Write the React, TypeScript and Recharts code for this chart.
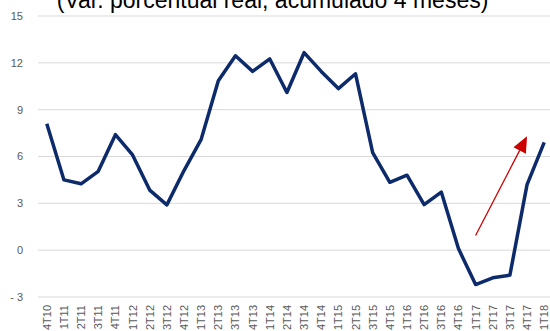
import { LineChart, Line, XAxis, YAxis, CartesianGrid, ReferenceLine } from 'recharts'

const quarters = [
  '4T10',
  '1T11', '2T11', '3T11', '4T11',
  '1T12', '2T12', '3T12', '4T12',
  '1T13', '2T13', '3T13', '4T13',
  '1T14', '2T14', '3T14', '4T14',
  '1T15', '2T15', '3T15', '4T15',
  '1T16', '2T16', '3T16', '4T16',
  '1T17', '2T17', '3T17', '4T17',
  '1T18',
]

const values = [
  8.1,
  4.5, 4.25, 5.05, 7.4,
  6.1, 3.85, 2.9, 5.1,
  7.1, 10.85, 12.45, 11.45,
  12.25, 10.1, 12.65, 11.45,
  10.35, 11.3, 6.25, 4.35,
  4.8, 2.92, 3.72, 0.1,
  -2.2, -1.77, -1.6, 4.2,
  6.9,
]

const yTicks = [-3, 0, 3, 6, 9, 12, 15]

const title = '(Var. porcentual real, acumulado 4 meses)'

// arrow drawn by hand over the last quarters
const arrowFrom = { x: '1T17', y: 0.94 }
const arrowTo = { x: '4T17', y: 7.3 }

const data = quarters.map((q, i) => ({ q, v: values[i] }))

const fmtY = (v: number) => (v < 0 ? `- ${-v}` : `${v}`)

function QuarterTick({ x, y, payload }: { x?: number; y?: number; payload?: { value: string } }) {
  return (
    <text
      x={0} y={0} dy={4}
      transform={`translate(${x},${y}) rotate(-90)`}
      textAnchor="end"
      fill="#595959"
      fontSize={11}
      fontFamily="Liberation Sans, Arial, sans-serif"
    >
      {payload?.value}
    </text>
  )
}

function Arrow(props: any) {
  const { x1, y1, x2, y2 } = props
  const dx = x2 - x1, dy = y2 - y1
  const len = Math.sqrt(dx * dx + dy * dy)
  const ux = dx / len, uy = dy / len
  const headLen = 16, headHalf = 7
  const bx = x2 - ux * headLen, by = y2 - uy * headLen
  return (
    <g>
      <line x1={x1} y1={y1} x2={bx} y2={by} stroke="#cc0000" strokeWidth={1.3} />
      <polygon
        points={`${x2},${y2} ${bx - uy * headHalf},${by + ux * headHalf} ${bx + uy * headHalf},${by - ux * headHalf}`}
        fill="#cc0000"
      />
    </g>
  )
}

export default function App() {
  return (
    <div style={{ position: 'absolute', left: 0, top: 0, width: 550, height: 331, overflow: 'hidden', background: '#fff' }}>
      <LineChart width={553} height={360} data={data} margin={{ top: 16, right: 0, bottom: 0, left: 0 }}>
        <CartesianGrid vertical={false} stroke="#d9d9d9" strokeWidth={1} />
        <XAxis
          dataKey="q"
          interval={0}
          height={63}
          padding={{ left: 8.8, right: 8.8 }}
          axisLine={false}
          tickLine={false}
          tick={<QuarterTick />}
        />
        <YAxis
          domain={[-3, 15]}
          ticks={yTicks}
          width={38}
          axisLine={false}
          tickLine={false}
          tickMargin={9}
          tickFormatter={fmtY}
          tick={{ fill: '#595959', fontSize: 11, fontFamily: 'Liberation Sans, Arial, sans-serif' }}
        />
        <Line
          type="linear" dataKey="v"
          stroke="#0d2b6b" strokeWidth={3.5}
          dot={false} activeDot={false}
          strokeLinejoin="round"
          isAnimationActive={false}
        />
        <ReferenceLine segment={[arrowFrom, arrowTo]} ifOverflow="visible" shape={<Arrow />} />
      </LineChart>
      <svg width={550} height={40} style={{ position: 'absolute', left: 0, top: 0 }}>
        <text x={272.5} y={7.5} textAnchor="middle" fontSize={23} fill="#000" fontFamily="Liberation Sans, Arial, sans-serif">
          {title}
        </text>
      </svg>
    </div>
  )
}
